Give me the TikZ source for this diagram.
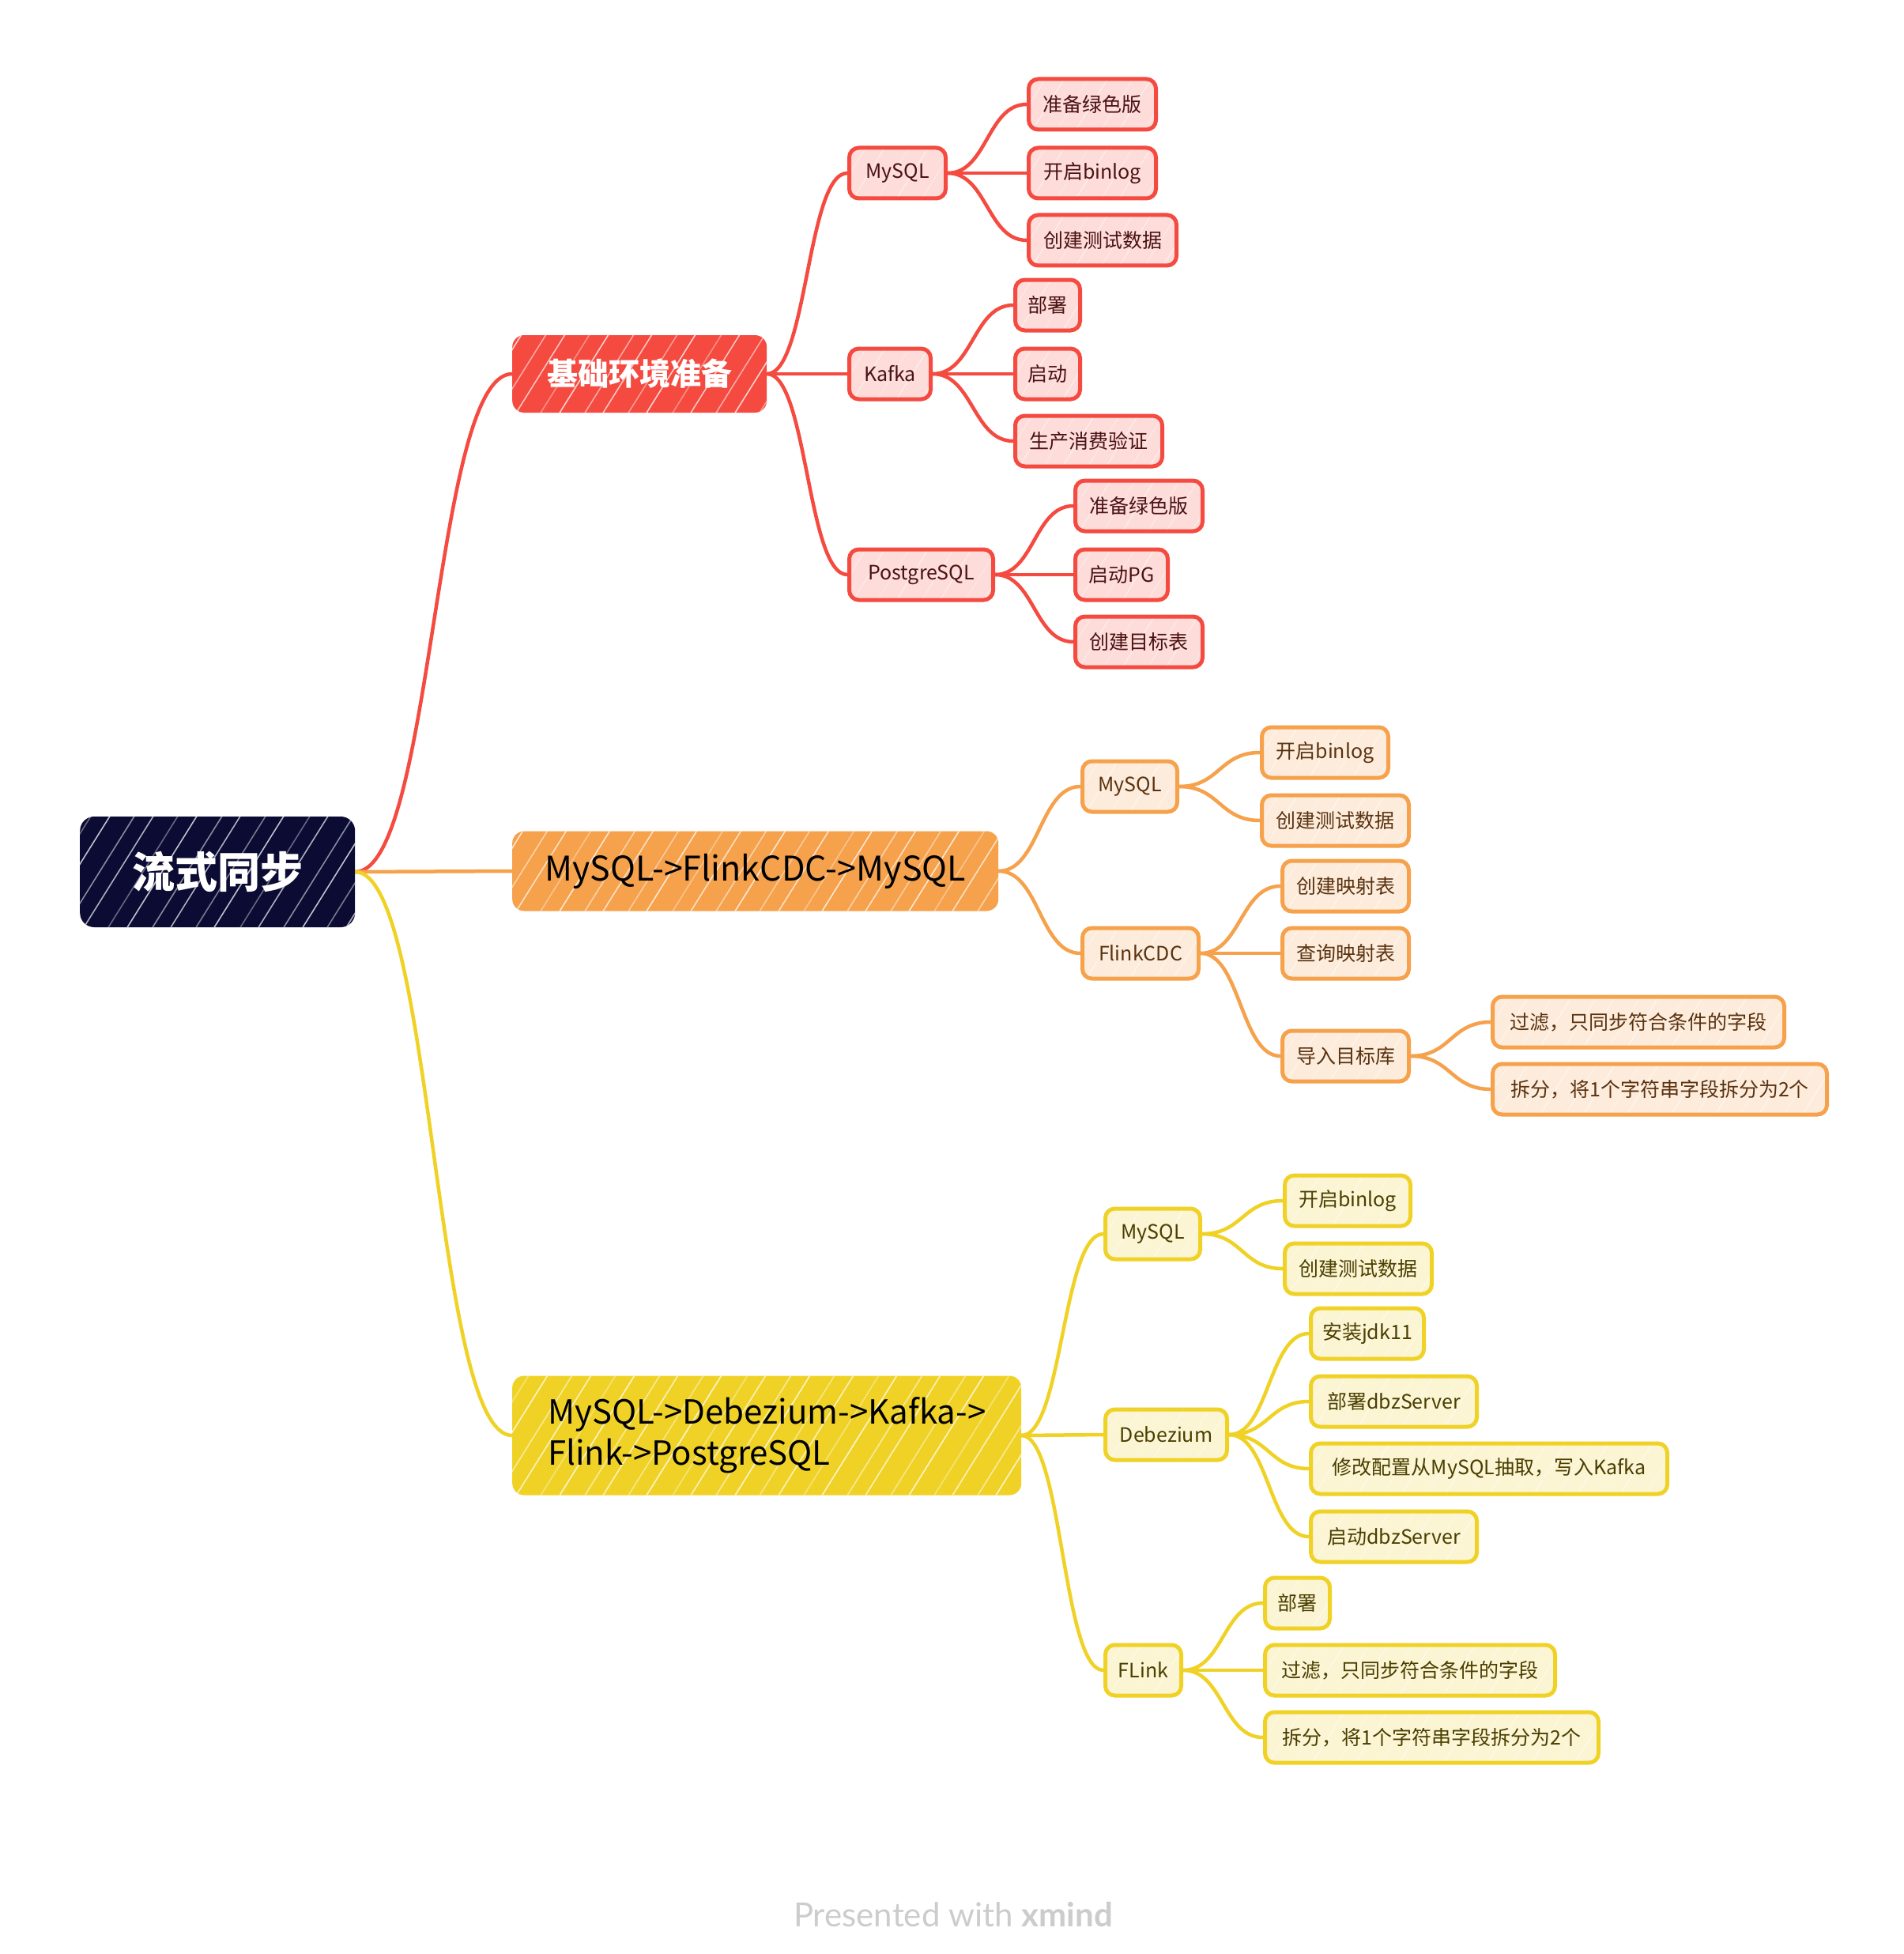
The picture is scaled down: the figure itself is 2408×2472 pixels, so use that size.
\documentclass[tikz,border=0pt]{standalone}
\usepackage{fontspec}
\setmainfont{Noto Sans CJK SC}
\newfontfamily\footfont{Lato}
\usetikzlibrary{calc,backgrounds}
\definecolor{cNavy}{HTML}{0B0B34}
\definecolor{cR}{HTML}{F44A40}
\definecolor{cO}{HTML}{F6A14B}
\definecolor{cY}{HTML}{F0D226}
\definecolor{cRl}{HTML}{FDDCDA}
\definecolor{cOl}{HTML}{FDECDB}
\definecolor{cYl}{HTML}{FBF5D3}
\definecolor{tR}{HTML}{4A1212}
\definecolor{tO}{HTML}{5A3210}
\definecolor{tY}{HTML}{4A3E00}
\definecolor{cFoot}{HTML}{CCCCCC}
\tikzset{
  hatchw/.style 2 args={path picture={
      \foreach \i/\o in {-160/1,-131/0.6,-106/0.9,-74/0.5,-50/1,-19/0.7,5/0.9,36/0.5,60/1,92/0.7,
        115/0.9,147/0.6,170/1,203/0.5,226/0.9,258/0.7,282/1,313/0.6,337/0.9,369/0.5,392/1,424/0.7,
        447/0.9,479/0.6,502/1,534/0.5,557/0.9,589/0.7,612/1,644/0.6,667/0.9,699/0.5}{
        \draw[white,line width=#1,opacity=#2*\o,line cap=round]
          ([xshift=\i pt]path picture bounding box.south west) -- ++(58:280pt);}}},
  sm/.style={anchor=west, rounded corners=12pt, minimum height=64, inner sep=0pt,
    line width=5, font=\fontsize{25}{30}\selectfont},
  r3/.style={sm, draw=cR, fill=cRl, text=tR, hatchw={1.2pt}{0.55}},
  o3/.style={sm, draw=cO, fill=cOl, text=tO, hatchw={1.2pt}{0.55}},
  y3/.style={sm, draw=cY, fill=cYl, text=tY, hatchw={1.2pt}{0.55}},
  big/.style={anchor=west, rounded corners=15pt, inner sep=0pt, hatchw={1.6pt}{0.75}},
  cn/.style={line width=4.5, line cap=round,
    to path={let \p1=(\tikztostart), \p2=(\tikztotarget) in
      .. controls ({0.5*\x1+0.5*\x2},\y1) and ({0.5*\x1+0.5*\x2},\y2) .. (\tikztotarget)}}
}
\begin{document}
\begin{tikzpicture}[x=1pt,y=-1pt]
\useasboundingbox (0,0) rectangle (2408,2472);
% root
\node[big, fill=cNavy, rounded corners=18pt, minimum width=348, minimum height=140, text=white,
  font=\fontsize{54}{62}\selectfont\bfseries] (root) at (101,1103) {流式同步};
% level 1
\node[big, fill=cR, minimum width=322, minimum height=98, text=white,
  font=\fontsize{39}{46}\selectfont\bfseries] (R) at (648,473) {基础环境准备};
\node[big, fill=cO, minimum width=615, minimum height=101, text=black,
  font=\fontsize{43}{50}\selectfont] (O) at (648,1102) {MySQL->FlinkCDC->MySQL};
\node[big, fill=cY, minimum width=644, minimum height=151, text=black, align=left,
  font=\fontsize{42}{52}\selectfont] (Y) at (648,1816) {MySQL->Debezium->Kafka->\\Flink->PostgreSQL};
% red branch
\node[r3, minimum width=122] (rm) at (1072,219) {MySQL};
\node[r3, minimum width=103] (rk) at (1072,473) {Kafka};
\node[r3, minimum width=182] (rp) at (1072,727) {PostgreSQL};
\node[r3, minimum width=161] (rm1) at (1299,132) {准备绿色版};
\node[r3, minimum width=161] (rm2) at (1299,219) {开启binlog};
\node[r3, minimum width=187] (rm3) at (1299,304) {创建测试数据};
\node[r3, minimum width=82] (rk1) at (1282,386) {部署};
\node[r3, minimum width=82] (rk2) at (1282,473) {启动};
\node[r3, minimum width=186] (rk3) at (1282,558) {生产消费验证};
\node[r3, minimum width=161] (rp1) at (1358,640) {准备绿色版};
\node[r3, minimum width=117] (rp2) at (1358,727) {启动PG};
\node[r3, minimum width=161] (rp3) at (1358,812) {创建目标表};
% orange branch
\node[o3, minimum width=120] (om) at (1367,995) {MySQL};
\node[o3, minimum width=147] (of) at (1367,1206) {FlinkCDC};
\node[o3, minimum width=160] (om1) at (1594,952) {开启binlog};
\node[o3, minimum width=186] (om2) at (1594,1038) {创建测试数据};
\node[o3, minimum width=160] (of1) at (1620,1121) {创建映射表};
\node[o3, minimum width=160] (of2) at (1620,1206) {查询映射表};
\node[o3, minimum width=160] (of3) at (1620,1336) {导入目标库};
\node[o3, minimum width=369] (of31) at (1886,1293) {过滤，只同步符合条件的字段};
\node[o3, minimum width=423] (of32) at (1886,1378) {拆分，将1个字符串字段拆分为2个};
% yellow branch
\node[y3, minimum width=120] (ym) at (1396,1561) {MySQL};
\node[y3, minimum width=154] (yd) at (1396,1815) {Debezium};
\node[y3, minimum width=96] (yf) at (1396,2113) {FLink};
\node[y3, minimum width=159] (ym1) at (1623,1519) {开启binlog};
\node[y3, minimum width=186] (ym2) at (1623,1605) {创建测试数据};
\node[y3, minimum width=143] (yd1) at (1656,1687) {安装jdk11};
\node[y3, minimum width=210] (yd2) at (1656,1773) {部署dbzServer};
\node[y3, minimum width=451] (yd3) at (1656,1858) {修改配置从MySQL抽取，写入Kafka};
\node[y3, minimum width=210] (yd4) at (1656,1944) {启动dbzServer};
\node[y3, minimum width=82] (yf1) at (1598,2028) {部署};
\node[y3, minimum width=367] (yf2) at (1598,2113) {过滤，只同步符合条件的字段};
\node[y3, minimum width=422] (yf3) at (1598,2198) {拆分，将1个字符串字段拆分为2个};
% footer
\node[text=cFoot, font=\footfont\fontsize{42}{48}\selectfont] (foot) at (1206,2422)
  {Presented with \textbf{xmind}};
\begin{scope}[on background layer]
\fill[white] (0,0) rectangle (2408,2472);
\draw[cn, cR] (root.east) to (R.west);
\draw[cn, cO] (root.east) to (O.west);
\draw[cn, cY] (root.east) to (Y.west);
\foreach \c in {rm,rk,rp} \draw[cn, cR] (R.east) to (\c.west);
\foreach \c in {rm1,rm2,rm3} \draw[cn, cR] (rm.east) to (\c.west);
\foreach \c in {rk1,rk2,rk3} \draw[cn, cR] (rk.east) to (\c.west);
\foreach \c in {rp1,rp2,rp3} \draw[cn, cR] (rp.east) to (\c.west);
\foreach \c in {om,of} \draw[cn, cO] (O.east) to (\c.west);
\foreach \c in {om1,om2} \draw[cn, cO] (om.east) to (\c.west);
\foreach \c in {of1,of2,of3} \draw[cn, cO] (of.east) to (\c.west);
\foreach \c in {of31,of32} \draw[cn, cO] (of3.east) to (\c.west);
\foreach \c in {ym,yd,yf} \draw[cn, cY] (Y.east) to (\c.west);
\foreach \c in {ym1,ym2} \draw[cn, cY] (ym.east) to (\c.west);
\foreach \c in {yd1,yd2,yd3,yd4} \draw[cn, cY] (yd.east) to (\c.west);
\foreach \c in {yf1,yf2,yf3} \draw[cn, cY] (yf.east) to (\c.west);
\end{scope}
\end{tikzpicture}
\end{document}
